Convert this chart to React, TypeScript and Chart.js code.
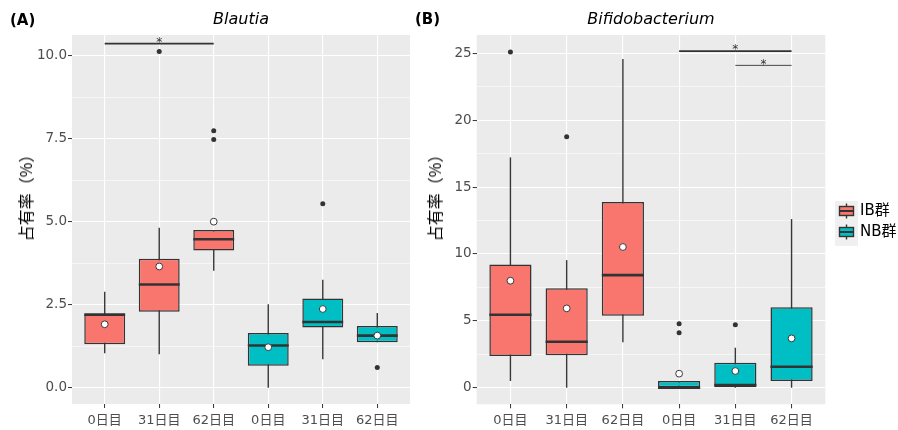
import React, { useEffect, useRef } from 'react';
import { Chart, registerables } from 'chart.js';

Chart.register(...registerables);

const FONT = '"DejaVu Sans", "Noto Sans CJK JP", sans-serif';
const CJK_FONT = '"Noto Sans CJK JP", "DejaVu Sans", sans-serif';

// ---------- shared categories ----------
const dayLabels = ['0日目', '31日目', '62日目', '0日目', '31日目', '62日目'];
const ibPositions = [1, 2, 3];
const nbPositions = [4, 5, 6];
const groupNames = ['IB群', 'NB群'];
const groupColors = ['#F8766D', '#00BFC4'];
const yAxisTitle = '占有率（%）';

// ---------- (A) Blautia ----------
const blautiaTitle = 'Blautia';
const blautiaIbQ1 = [1.31, 2.29, 4.13];
const blautiaIbQ3 = [2.21, 3.88, 4.75];
const blautiaIbMedian = [2.2, 3.11, 4.47];
const blautiaIbLower = [1.04, 1.01, 3.52];
const blautiaIbUpper = [2.89, 4.82, 4.75];
const blautiaIbMean = [1.91, 3.65, 5.0];
const blautiaIbOutliers = [[], [10.12], [7.74, 7.47]];
const blautiaNbQ1 = [0.66, 1.81, 1.37];
const blautiaNbQ3 = [1.65, 2.69, 1.86];
const blautiaNbMedian = [1.27, 1.98, 1.57];
const blautiaNbLower = [0, 0.86, 1.37];
const blautiaNbUpper = [2.51, 3.25, 2.25];
const blautiaNbMean = [1.22, 2.37, 1.57];
const blautiaNbOutliers = [[], [5.54], [0.61]];
const blautiaTicks = [0, 2.5, 5, 7.5, 10];
const blautiaMinorTicks = [1.25, 3.75, 6.25, 8.75];
const blautiaRange = [-0.49, 10.62];
const blautiaSigFrom = [1];
const blautiaSigTo = [3];
const blautiaSigY = [10.36];
const blautiaSigText = ['*'];

// ---------- (B) Bifidobacterium ----------
const bifidoTitle = 'Bifidobacterium';
const bifidoIbQ1 = [2.37, 2.42, 5.38];
const bifidoIbQ3 = [9.22, 7.43, 13.88];
const bifidoIbMedian = [5.46, 3.44, 8.42];
const bifidoIbLower = [0.5, 0, 3.39];
const bifidoIbUpper = [17.22, 9.54, 24.57];
const bifidoIbMean = [8.0, 5.93, 10.52];
const bifidoIbOutliers = [[25.09], [18.76], []];
const bifidoNbQ1 = [0, 0, 0.5];
const bifidoNbQ3 = [0.5, 1.87, 6.01];
const bifidoNbMedian = [0, 0.2, 1.57];
const bifidoNbLower = [0, 0, 0];
const bifidoNbUpper = [0.5, 2.99, 12.61];
const bifidoNbMean = [1.05, 1.25, 3.69];
const bifidoNbOutliers = [[4.78, 4.11], [4.71], []];
const bifidoTicks = [0, 5, 10, 15, 20, 25];
const bifidoMinorTicks = [2.5, 7.5, 12.5, 17.5, 22.5];
const bifidoRange = [-1.24, 26.37];
const bifidoSigFrom = [4, 5];
const bifidoSigTo = [6, 6];
const bifidoSigY = [25.16, 24.1];
const bifidoSigText = ['*', '*'];

// ---------- types ----------
type Stats = {
  q1: number[]; q3: number[]; med: number[]; lo: number[]; hi: number[];
  mean: number[]; out: number[][];
};
type PanelSpec = {
  title: string;
  groups: Stats[];
  ticks: number[];
  minor: number[];
  range: number[];
  fmt: (v: number) => string;
  sigFrom: number[]; sigTo: number[]; sigY: number[]; sigText: string[];
  sigWidths: number[];
  yAxisWidth: number;
  padRight: number;
  xAxisHeight: number;
  legend: boolean;
};

const positions = [ibPositions, nbPositions];

const bgPlugin = {
  id: 'panelBg',
  beforeDraw(chart: any) {
    const { ctx, chartArea: a } = chart;
    ctx.save();
    ctx.fillStyle = '#EBEBEB';
    ctx.fillRect(a.left, a.top, a.right - a.left, a.bottom - a.top);
    ctx.restore();
  },
};

function makeBoxPlugin(p: PanelSpec) {
  return {
    id: 'boxParts',
    beforeDatasetsDraw(chart: any) {
      const ctx = chart.ctx;
      const xs = chart.scales.x;
      const ys = chart.scales.y;
      ctx.save();
      ctx.strokeStyle = '#383838';
      ctx.lineWidth = 1.4;
      p.groups.forEach((g, gi) => {
        positions[gi].forEach((pos, j) => {
          const px = xs.getPixelForValue(pos);
          ctx.beginPath();
          ctx.moveTo(px, ys.getPixelForValue(g.lo[j]));
          ctx.lineTo(px, ys.getPixelForValue(g.hi[j]));
          ctx.stroke();
        });
      });
      ctx.restore();
    },
    afterDatasetDraw(chart: any, args: any) {
      if (args.meta.type !== 'bar') return;
      const g = p.groups[args.index];
      if (!g) return;
      const ctx = chart.ctx;
      const ys = chart.scales.y;
      ctx.save();
      ctx.strokeStyle = '#333333';
      ctx.lineWidth = 2.6;
      args.meta.data.forEach((el: any, j: number) => {
        const { x, width } = el.getProps(['x', 'width'], true);
        const py = ys.getPixelForValue(g.med[j]);
        ctx.beginPath();
        ctx.moveTo(x - width / 2, py);
        ctx.lineTo(x + width / 2, py);
        ctx.stroke();
      });
      ctx.restore();
    },
    afterDraw(chart: any) {
      const ctx = chart.ctx;
      const xs = chart.scales.x;
      const ys = chart.scales.y;
      ctx.save();
      p.sigY.forEach((yv, k) => {
        const x1 = xs.getPixelForValue(p.sigFrom[k]);
        const x2 = xs.getPixelForValue(p.sigTo[k]);
        const py = ys.getPixelForValue(yv);
        ctx.strokeStyle = '#333333';
        ctx.lineWidth = p.sigWidths[k];
        ctx.beginPath();
        ctx.moveTo(x1, py);
        ctx.lineTo(x2, py);
        ctx.stroke();
        ctx.fillStyle = '#333333';
        ctx.font = `12px ${FONT}`;
        ctx.textAlign = 'center';
        ctx.textBaseline = 'alphabetic';
        ctx.fillText(p.sigText[k], (x1 + x2) / 2, py + 2.2);
      });
      ctx.restore();
    },
  };
}

const legendPlugin = {
  id: 'boxLegend',
  afterDraw(chart: any) {
    const ctx = chart.ctx;
    const a = chart.chartArea;
    const bars = chart.data.datasets.filter((d: any) => d.type === 'bar');
    const left = a.right + 9.7;
    ctx.save();
    ctx.fillStyle = '#F0F0F0';
    ctx.fillRect(left, 201, 23, 45);
    const centers = [211, 232];
    bars.forEach((d: any, i: number) => {
      const cx = left + 11.5;
      const cy = centers[i];
      ctx.strokeStyle = '#333333';
      ctx.lineWidth = 1.4;
      ctx.beginPath();
      ctx.moveTo(cx, cy - 7.5);
      ctx.lineTo(cx, cy + 7.5);
      ctx.stroke();
      ctx.fillStyle = d.backgroundColor;
      ctx.fillRect(cx - 7, cy - 4.5, 14, 9);
      ctx.strokeRect(cx - 7, cy - 4.5, 14, 9);
      ctx.lineWidth = 2;
      ctx.beginPath();
      ctx.moveTo(cx - 7, cy);
      ctx.lineTo(cx + 7, cy);
      ctx.stroke();
      ctx.fillStyle = '#000000';
      ctx.font = `15px ${FONT}`;
      ctx.textAlign = 'left';
      ctx.textBaseline = 'middle';
      ctx.fillText(d.label, left + 25, cy);
    });
    ctx.restore();
  },
};

function makeConfig(p: PanelSpec): any {
  const datasets: any[] = [];
  p.groups.forEach((g, gi) => {
    datasets.push({
      type: 'bar',
      label: groupNames[gi],
      data: positions[gi].map((x, j) => ({ x, y: [g.q1[j], g.q3[j]] })),
      backgroundColor: groupColors[gi],
      borderColor: '#333333',
      borderWidth: 1.5,
      borderSkipped: false,
      grouped: false,
      barPercentage: 0.75,
      categoryPercentage: 1,
      order: 2,
    });
  });
  const outPts: any[] = [];
  const meanPts: any[] = [];
  p.groups.forEach((g, gi) => {
    positions[gi].forEach((x, j) => {
      g.out[j].forEach((v) => outPts.push({ x, y: v }));
      meanPts.push({ x, y: g.mean[j] });
    });
  });
  datasets.push({
    type: 'scatter', label: 'outliers', data: outPts,
    pointRadius: 2.5, backgroundColor: '#333333', borderWidth: 0, order: 1,
  });
  datasets.push({
    type: 'scatter', label: 'mean', data: meanPts,
    pointRadius: 3.4, backgroundColor: '#ffffff', borderColor: '#3a3a3a', borderWidth: 1, order: 0,
  });

  const yTickObjs = [
    ...p.ticks.map((v) => ({ value: v, minor: false })),
    ...p.minor.map((v) => ({ value: v, minor: true })),
  ].sort((a, b) => a.value - b.value);

  const plugins: any[] = [bgPlugin, makeBoxPlugin(p)];
  if (p.legend) plugins.push(legendPlugin);

  return {
    type: 'bar',
    data: { datasets },
    plugins,
    options: {
      responsive: false,
      animation: false,
      events: [],
      layout: { padding: { left: 0, right: p.padRight, top: 0, bottom: 0 } },
      plugins: {
        legend: { display: false },
        tooltip: { enabled: false },
        title: {
          display: true,
          text: p.title,
          fullSize: false,
          color: '#000000',
          font: { family: FONT, size: 16, style: 'italic', weight: 'normal' },
          padding: { top: 10.4, bottom: 5.4 },
        },
      },
      scales: {
        x: {
          type: 'linear',
          min: 0.4,
          max: 6.6,
          offset: false,
          afterBuildTicks: (axis: any) => {
            axis.ticks = dayLabels.map((_, i) => ({ value: i + 1 }));
          },
          afterFit: (axis: any) => { axis.height = p.xAxisHeight; },
          ticks: {
            autoSkip: false,
            maxRotation: 0,
            minRotation: 0,
            padding: 5,
            color: '#4D4D4D',
            font: { family: FONT, size: 13 },
            callback: (_v: any, i: number) => dayLabels[i],
          },
          grid: {
            offset: false,
            color: '#FFFFFF',
            lineWidth: 1.1,
            drawTicks: true,
            tickLength: 4,
            tickColor: '#333333',
            tickWidth: 1,
          },
          border: { display: false },
        },
        y: {
          type: 'linear',
          min: p.range[0],
          max: p.range[1],
          offset: false,
          afterBuildTicks: (axis: any) => {
            axis.ticks = yTickObjs.map((t) => ({ ...t }));
          },
          afterFit: (axis: any) => { axis.width = p.yAxisWidth; },
          ticks: {
            autoSkip: false,
            padding: 1,
            color: '#4D4D4D',
            font: { family: FONT, size: 13.5 },
            callback: (v: any, i: number, ticks: any[]) => (ticks[i] && ticks[i].minor ? '' : p.fmt(v)),
          },
          grid: {
            offset: false,
            color: '#FFFFFF',
            lineWidth: (ctx: any) => (ctx.tick && ctx.tick.minor ? 0.55 : 1.1),
            drawTicks: true,
            tickLength: 4,
            tickWidth: 1,
            tickColor: (ctx: any) => (ctx.tick && ctx.tick.minor ? 'rgba(0,0,0,0)' : '#333333'),
          },
          border: { display: false },
        },
      },
    },
  };
}

const blautiaPanel: PanelSpec = {
  title: blautiaTitle,
  groups: [
    { q1: blautiaIbQ1, q3: blautiaIbQ3, med: blautiaIbMedian, lo: blautiaIbLower, hi: blautiaIbUpper, mean: blautiaIbMean, out: blautiaIbOutliers },
    { q1: blautiaNbQ1, q3: blautiaNbQ3, med: blautiaNbMedian, lo: blautiaNbLower, hi: blautiaNbUpper, mean: blautiaNbMean, out: blautiaNbOutliers },
  ],
  ticks: blautiaTicks,
  minor: blautiaMinorTicks,
  range: blautiaRange,
  fmt: (v) => v.toFixed(1),
  sigFrom: blautiaSigFrom, sigTo: blautiaSigTo, sigY: blautiaSigY, sigText: blautiaSigText,
  sigWidths: [1.8],
  yAxisWidth: 72,
  padRight: 4,
  xAxisHeight: 26,
  legend: false,
};

const bifidoPanel: PanelSpec = {
  title: bifidoTitle,
  groups: [
    { q1: bifidoIbQ1, q3: bifidoIbQ3, med: bifidoIbMedian, lo: bifidoIbLower, hi: bifidoIbUpper, mean: bifidoIbMean, out: bifidoIbOutliers },
    { q1: bifidoNbQ1, q3: bifidoNbQ3, med: bifidoNbMedian, lo: bifidoNbLower, hi: bifidoNbUpper, mean: bifidoNbMean, out: bifidoNbOutliers },
  ],
  ticks: bifidoTicks,
  minor: bifidoMinorTicks,
  range: bifidoRange,
  fmt: (v) => String(v),
  sigFrom: bifidoSigFrom, sigTo: bifidoSigTo, sigY: bifidoSigY, sigText: bifidoSigText,
  sigWidths: [1.8, 0.9],
  yAxisWidth: 61.7,
  padRight: 72.7,
  xAxisHeight: 25.7,
  legend: true,
};

const panelLabelStyle: React.CSSProperties = {
  position: 'absolute',
  fontFamily: FONT,
  fontWeight: 'bold',
  fontSize: 15,
  lineHeight: '15px',
  color: '#000',
  whiteSpace: 'nowrap',
};

const yTitleStyle: React.CSSProperties = {
  position: 'absolute',
  fontFamily: CJK_FONT,
  fontSize: 16,
  lineHeight: '16px',
  color: '#000',
  whiteSpace: 'nowrap',
  transform: 'translate(-50%, -50%) rotate(-90deg)',
};

export default function App() {
  const refA = useRef<HTMLCanvasElement | null>(null);
  const refB = useRef<HTMLCanvasElement | null>(null);

  useEffect(() => {
    if (!refA.current || !refB.current) return;
    const a = new Chart(refA.current, makeConfig(blautiaPanel));
    const b = new Chart(refB.current, makeConfig(bifidoPanel));
    return () => {
      a.destroy();
      b.destroy();
    };
  }, []);

  return (
    <div style={{ position: 'absolute', left: 0, top: 0, width: 898, height: 430, background: '#fff', overflow: 'hidden' }}>
      <canvas ref={refA} width={415} height={430} style={{ position: 'absolute', left: 0, top: 0, width: 415, height: 430 }} />
      <canvas ref={refB} width={483} height={430} style={{ position: 'absolute', left: 415, top: 0, width: 483, height: 430 }} />
      <span style={{ ...panelLabelStyle, left: 10, top: 13 }}>(A)</span>
      <span style={{ ...panelLabelStyle, left: 415, top: 12 }}>(B)</span>
      <span style={{ ...yTitleStyle, left: 25, top: 194 }}>{yAxisTitle}</span>
      <span style={{ ...yTitleStyle, left: 434, top: 194 }}>{yAxisTitle}</span>
    </div>
  );
}
